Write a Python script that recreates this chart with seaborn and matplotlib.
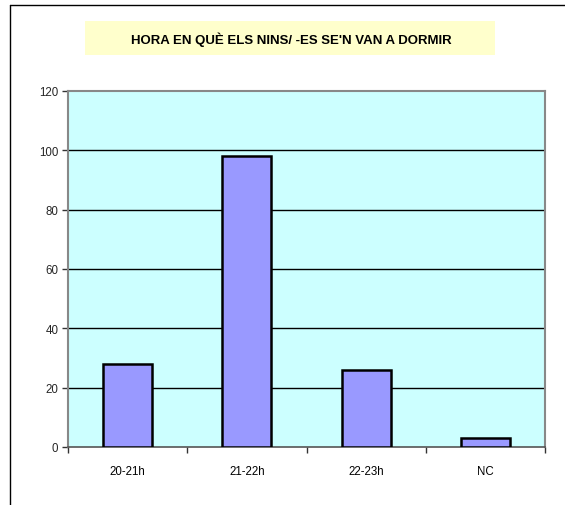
import matplotlib
matplotlib.use("Agg")
import matplotlib.pyplot as plt
import seaborn as sns
import pandas as pd
from matplotlib.patches import Rectangle
from matplotlib.lines import Line2D

# Data
categories = ["20-21h", "21-22h", "22-23h", "NC"]
values = [28, 98, 26, 3]
y_ticks = [0, 20, 40, 60, 80, 100, 120]
title = "HORA EN QUÈ ELS NINS/ -ES SE'N VAN A DORMIR"

sns.set_theme(style="white")
plt.rcParams['font.family'] = ['Liberation Sans', 'DejaVu Sans']

df = pd.DataFrame({'hora': categories, 'n': values})

fig = plt.figure(figsize=(5.65, 5.06), dpi=100)
ax = fig.add_axes([68 / 565, 1 - 448 / 506, 477 / 565, 356 / 506])
ax.set_facecolor('#CCFFFF')

sns.barplot(data=df, x='hora', y='n', color='#9999FF', saturation=1,
            width=0.41, edgecolor='black', linewidth=1.8, ax=ax, zorder=3)

ax.set_ylim(0, 120)
ax.set_xlim(-0.5, len(categories) - 0.5)
ax.set_yticks(y_ticks)
# category boundaries get the tick marks, labels sit in between
ax.set_xticks([i - 0.5 for i in range(len(categories) + 1)], minor=False)
ax.set_xticklabels([])
ax.set_xticks(range(len(categories)), minor=True)
ax.set_xticklabels(categories, minor=True)
ax.tick_params(axis='x', which='minor', length=0, pad=13, labelsize=8.3, colors='black')
ax.tick_params(axis='x', which='major', length=4, width=1, color='#333333', direction='out')
ax.tick_params(axis='y', length=4, width=1, color='#333333', direction='out', labelsize=8.3, pad=3)
ax.tick_params(bottom=True, left=True)

for v in y_ticks[1:-1]:
    ax.axhline(v, color='black', linewidth=1, zorder=1)

for side in ['top', 'right', 'left']:
    ax.spines[side].set_color('#888888')
    ax.spines[side].set_linewidth(1.5)
ax.spines['bottom'].set_color('#555555')
ax.spines['bottom'].set_linewidth(1.2)
ax.set_xlabel('')
ax.set_ylabel('')

# title box
fig.add_artist(Rectangle((85 / 565, 1 - 56 / 506), 410 / 565, 34 / 506,
                         transform=fig.transFigure, facecolor='#FFFFCC',
                         edgecolor='none'))
fig.text(291 / 565, 1 - 40 / 506, title, ha='center', va='center',
         fontsize=9.5, fontweight='bold', color='black')

# outer frame (left and top edges visible)
fig.add_artist(Line2D([10 / 565, 10 / 565], [0, 1 - 6 / 506], color='black', linewidth=1,
                      transform=fig.transFigure))
fig.add_artist(Line2D([10 / 565, 1], [1 - 6 / 506, 1 - 6 / 506], color='black', linewidth=1,
                      transform=fig.transFigure))

fig.savefig('out.png', dpi=100, facecolor='white')
